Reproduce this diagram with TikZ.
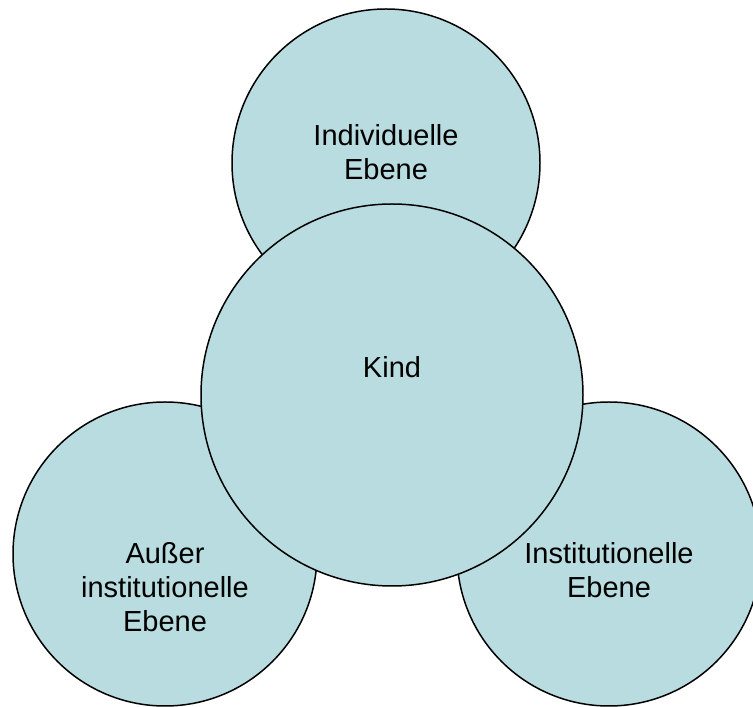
\documentclass[tikz,border=0pt]{standalone}
\usepackage{fontspec}
\setmainfont{Liberation Sans}
\usepackage{tikz}
\usepackage{color}
\definecolor{ebenecol}{RGB}{184,220,224}

\tikzset{
  ebene/.style={circle, draw=black, fill=ebenecol, line width=0.85pt, inner sep=0pt},
  ebenetext/.style={align=center, font=\fontsize{16.5}{19.4}\selectfont}
}

\begin{document}
\begin{tikzpicture}
% Drawing area
\useasboundingbox (0,0) rectangle (15.06,14.14);

% Drawing outer circles
\node[ebene, minimum size=6.16cm] (indiv) at (7.72,10.88) {};
\node[ebene, minimum size=6.08cm] (ausser) at (3.30,3.06) {};
\node[ebene, minimum size=6.08cm] (instit) at (12.18,3.06) {};

% Drawing middle circle
\node[ebene, minimum size=7.64cm] (kind) at (7.84,6.24) {};

% Drawing labels
\node[ebenetext] (indivtext) at (7.72,11.10) {Individuelle\\Ebene};
\node[ebenetext] (kindtext) at (7.84,6.79) {Kind};
\node[ebenetext] (ausertext) at (3.30,2.40) {Außer\\institutionelle\\Ebene};
\node[ebenetext] (instittext) at (12.18,2.74) {Institutionelle\\Ebene};
\end{tikzpicture}
\end{document}
